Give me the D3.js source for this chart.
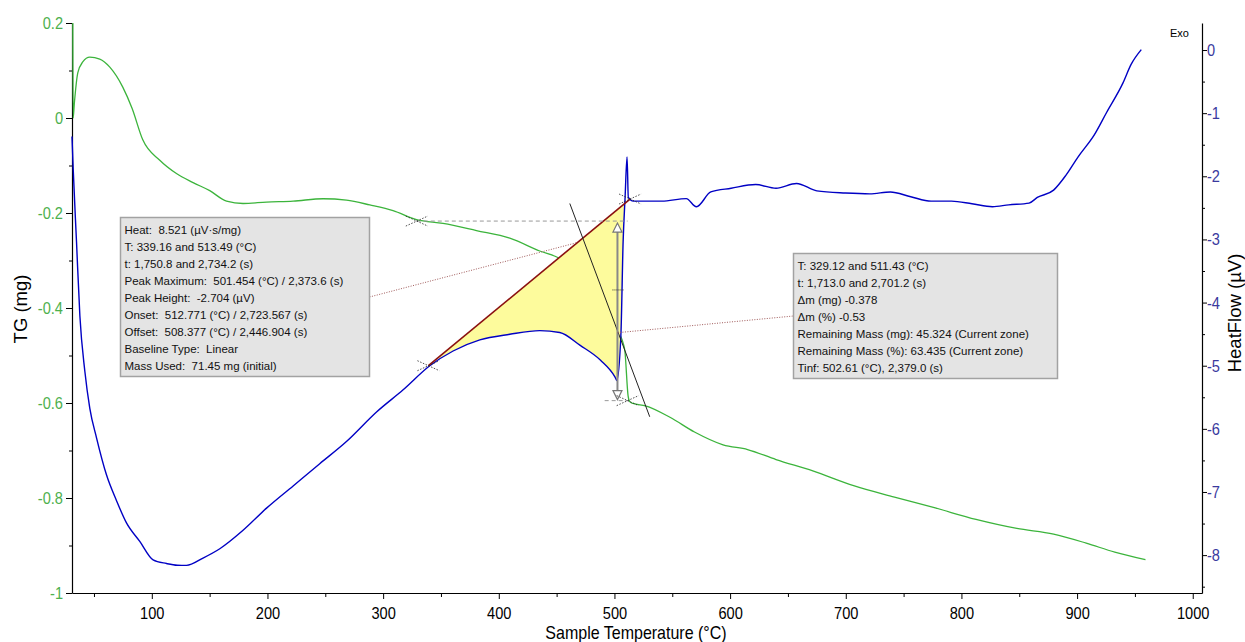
<!DOCTYPE html>
<html>
<head>
<meta charset="utf-8">
<script src="https://cdn.jsdelivr.net/npm/d3@7"></script>
<style>
  body { margin: 0; background: #fff; }
  svg { display: block; }
  text { font-family: "Liberation Sans", Arial, sans-serif; }
</style>
</head>
<body>
<svg id="chart" width="1245" height="642"></svg>
<script>
// axis ticks
const xTicks = [100, 200, 300, 400, 500, 600, 700, 800, 900, 1000];
const xMinorTicks = [50, 150, 250, 350, 450, 550, 650, 750, 850, 950];
const tgTicks = [0.2, 0, -0.2, -0.4, -0.6, -0.8, -1];
const tgMinorTicks = [0.1, -0.1, -0.3, -0.5, -0.7, -0.9];
const hfTicks = [0, -1, -2, -3, -4, -5, -6, -7, -8];
const hfMinorTicks = [-0.5, -1.5, -2.5, -3.5, -4.5, -5.5, -6.5, -7.5, -8.5];

// TG (mg) vs sample temperature (°C)
const tgCurve = [
  [31.7, 0.2], [32.0, 0.0], [33.0, 0.03], [36.0, 0.095], [40.3, 0.118], [46.4, 0.128],
  [55.0, 0.124], [63.7, 0.107], [74.9, 0.065], [83.0, 0.02], [92.2, -0.046],
  [106.9, -0.089], [121.3, -0.117], [135.7, -0.136], [150.1, -0.153], [164.6, -0.175],
  [178.9, -0.180], [199.2, -0.177], [222.2, -0.175], [248.1, -0.170], [268.3, -0.173],
  [288.5, -0.183], [308.6, -0.195], [328.9, -0.214], [351.8, -0.222], [380.7, -0.237],
  [409.5, -0.253], [435.4, -0.280], [452.7, -0.296], [470, -0.33], [488, -0.38],
  [500, -0.43], [504.6, -0.455], [507.5, -0.474], [509, -0.49], [511.8, -0.585],
  [513.2, -0.597], [516.1, -0.601], [526.8, -0.606], [548.0, -0.630], [569.2, -0.661],
  [593.9, -0.688], [615.1, -0.698], [639.7, -0.719], [671.5, -0.743], [706.8, -0.774],
  [742.1, -0.798], [777.4, -0.821], [812.6, -0.845], [847.9, -0.864], [879.7, -0.876],
  [907.9, -0.895], [932.6, -0.914], [959.1, -0.930]
];

// HeatFlow (µV) vs sample temperature (°C)
const hfCurve = [
  [31.0, -1.37], [32.0, -1.868], [34.9, -3.038], [37.8, -4.209], [42.1, -5.088],
  [46.4, -5.675], [52.2, -6.142], [60.8, -6.728], [69.5, -7.138], [78.1, -7.490],
  [89.6, -7.783], [101.1, -8.075], [112.7, -8.133], [122, -8.16], [130.0, -8.163],
  [144.3, -8.046], [158.8, -7.899], [178.9, -7.607], [199.2, -7.256], [222.2, -6.904],
  [245.2, -6.552], [268.3, -6.201], [294.3, -5.733], [317.3, -5.382], [340.3, -5.001],
  [360.5, -4.767], [383.6, -4.591], [409.5, -4.502], [435.4, -4.444], [452.7, -4.474],
  [470.4, -4.678], [488.0, -4.913], [500.4, -5.176], [502.1, -5.234], [505.6, -4.502],
  [507.5, -3.038], [509.2, -2.335], [510.9, -1.692], [512.0, -2.335], [516.3, -2.394],
  [540.9, -2.394], [562.1, -2.354], [570.9, -2.482], [583.3, -2.248], [600.9, -2.189],
  [622.1, -2.131], [639.7, -2.189], [657.4, -2.113], [675.0, -2.231], [699.7, -2.265],
  [720.9, -2.278], [738.5, -2.248], [756.2, -2.324], [773.8, -2.394], [791.4, -2.394],
  [809.1, -2.435], [826.8, -2.482], [840.9, -2.452], [858.5, -2.424], [865.6, -2.335],
  [879.7, -2.219], [890.3, -1.985], [900.9, -1.692], [915.0, -1.340], [925.5, -0.989],
  [939.7, -0.520], [946.7, -0.228], [955.5, 0.006]
];

// peak integration (HeatFlow) and mass step (TG) annotations
const peakBaseline = [[339.16, -5.0], [513.49, -2.36]];
const peakLeaderT = 468;
const tgStep = [[329.12, -0.217], [511.43, -0.595]];
const tinf = [502.61, -0.452];
const tinfTangent = [[461.4, -0.180], [530.5, -0.629]];
const stepMidTick = -0.362;

const peakText = [
  "Heat:  8.521 (µV·s/mg)",
  "T: 339.16 and 513.49 (°C)",
  "t: 1,750.8 and 2,734.2 (s)",
  "Peak Maximum:  501.454 (°C) / 2,373.6 (s)",
  "Peak Height:  -2.704 (µV)",
  "Onset:  512.771 (°C) / 2,723.567 (s)",
  "Offset:  508.377 (°C) / 2,446.904 (s)",
  "Baseline Type:  Linear",
  "Mass Used:  71.45 mg (initial)"
];
const stepText = [
  "T: 329.12 and 511.43 (°C)",
  "t: 1,713.0 and 2,701.2 (s)",
  "Δm (mg) -0.378",
  "Δm (%) -0.53",
  "Remaining Mass (mg): 45.324 (Current zone)",
  "Remaining Mass (%): 63.435 (Current zone)",
  "Tinf: 502.61 (°C), 2,379.0 (s)"
];

const svg = d3.select("#chart");
const plotLeft = 72, plotRight = 1202, plotTop = 23, plotBottom = 593;

const x = d3.scaleLinear().domain([31, 1008]).range([plotLeft, plotRight]);
const yTG = d3.scaleLinear().domain([-1, 0.2]).range([plotBottom, plotTop]);
const yHF = d3.scaleLinear().domain([-8.6, 0.428]).range([plotBottom, plotTop]);

const green = "#3cb43c";
const blue = "#0000c4";
const squeeze = 0.86; // the tick font is a narrow face

// axes
function styleAxis(g, color) {
  g.selectAll("path.domain").attr("stroke", "#000").attr("stroke-width", 1.2);
  g.selectAll(".tick line").attr("stroke", "#000");
  g.selectAll(".tick text")
    .attr("font-size", 17)
    .attr("fill", color)
    .attr("x", function () { return (+this.getAttribute("x") || 0) / squeeze; })
    .attr("transform", `scale(${squeeze},1)`);
}

const xAxis = svg.append("g")
  .attr("transform", `translate(0,${plotBottom})`)
  .call(d3.axisBottom(x).tickValues(xTicks).tickSize(6).tickSizeOuter(0).tickPadding(8).tickFormat((d) => String(d)));
styleAxis(xAxis, "#000");
svg.append("g")
  .attr("transform", `translate(0,${plotBottom})`)
  .call(d3.axisBottom(x).tickValues(xMinorTicks).tickSize(4).tickFormat(""))
  .call((g) => g.select(".domain").remove())
  .selectAll("line").attr("stroke", "#000");

const tgAxis = svg.append("g")
  .attr("transform", `translate(${plotLeft},0)`)
  .call(d3.axisLeft(yTG).tickValues(tgTicks).tickSize(6).tickSizeOuter(0).tickPadding(3).tickFormat((d) => String(d)));
styleAxis(tgAxis, "#4db04d");
svg.append("g")
  .attr("transform", `translate(${plotLeft},0)`)
  .call(d3.axisLeft(yTG).tickValues(tgMinorTicks).tickSize(3).tickFormat(""))
  .call((g) => g.select(".domain").remove())
  .selectAll("line").attr("stroke", "#000");

const hfAxis = svg.append("g")
  .attr("transform", `translate(${plotRight},0)`)
  .call(d3.axisRight(yHF).tickValues(hfTicks).tickSize(5).tickSizeOuter(0).tickPadding(0).tickFormat((d) => String(d)));
styleAxis(hfAxis, "#3a3a9e");
svg.append("g")
  .attr("transform", `translate(${plotRight},0)`)
  .call(d3.axisRight(yHF).tickValues(hfMinorTicks).tickSize(3).tickFormat(""))
  .call((g) => g.select(".domain").remove())
  .selectAll("line").attr("stroke", "#000");

// titles
svg.append("text")
  .attr("transform", `translate(636,639)scale(0.89,1)`)
  .attr("text-anchor", "middle")
  .attr("font-size", 18)
  .text("Sample Temperature (°C)");
svg.append("text")
  .attr("transform", "translate(27,309)rotate(-90)")
  .attr("text-anchor", "middle")
  .attr("font-size", 18.5)
  .text("TG (mg)");
svg.append("text")
  .attr("transform", "translate(1241,313)rotate(-90)")
  .attr("text-anchor", "middle")
  .attr("font-size", 18.5)
  .text("HeatFlow (µV)");
svg.append("text")
  .attr("x", 1170).attr("y", 37)
  .attr("font-size", 11)
  .text("Exo");

// TG curve
const tgLine = d3.line().curve(d3.curveMonotoneX).x((d) => x(d[0])).y((d) => yTG(d[1]));
svg.append("path")
  .attr("fill", "none")
  .attr("stroke", green)
  .attr("stroke-width", 1.3)
  .attr("d", tgLine(tgCurve));

// integrated peak area between linear baseline and heat flow
const [b0, b1] = peakBaseline;
const baseAt = (t) => b0[1] + ((t - b0[0]) / (b1[0] - b0[0])) * (b1[1] - b0[1]);
const hfAt = (t) => {
  const i = d3.bisector((d) => d[0]).left(hfCurve, t);
  const a = hfCurve[Math.max(0, i - 1)], b = hfCurve[Math.min(hfCurve.length - 1, i)];
  return a[0] === b[0] ? a[1] : a[1] + ((t - a[0]) / (b[0] - a[0])) * (b[1] - a[1]);
};
const areaPts = [[b0[0], hfAt(b0[0])]]
  .concat(hfCurve.filter((d) => d[0] > b0[0] && d[0] < b1[0]))
  .concat([[b1[0], hfAt(b1[0])]]);
svg.append("path")
  .attr("fill", "#fdfb9c")
  .attr("d", d3.area()
    .curve(d3.curveMonotoneX)
    .x((d) => x(d[0]))
    .y0((d) => yHF(baseAt(d[0])))
    .y1((d) => yHF(Math.min(d[1], baseAt(d[0]))))(areaPts));

// HeatFlow curve
const hfLine = d3.line().curve(d3.curveMonotoneX).x((d) => x(d[0])).y((d) => yHF(d[1]));
svg.append("path")
  .attr("fill", "none")
  .attr("stroke", blue)
  .attr("stroke-width", 1.4)
  .attr("d", hfLine(hfCurve));

// baseline
svg.append("line")
  .attr("x1", x(b0[0])).attr("y1", yHF(b0[1]))
  .attr("x2", x(b1[0])).attr("y2", yHF(b1[1]))
  .attr("stroke", "#8a1010")
  .attr("stroke-width", 1.6);

// mass step guides
svg.append("line")
  .attr("x1", x(tgStep[0][0])).attr("y1", yTG(tgStep[0][1]))
  .attr("x2", x(tgStep[1][0])).attr("y2", yTG(tgStep[0][1]))
  .attr("stroke", "#999").attr("stroke-dasharray", "4,3");
svg.append("line")
  .attr("x1", x(tgStep[1][0]) - 23).attr("y1", yTG(tgStep[1][1]))
  .attr("x2", x(tgStep[1][0])).attr("y2", yTG(tgStep[1][1]))
  .attr("stroke", "#999").attr("stroke-dasharray", "4,3");

// tangent at the inflection
svg.append("line")
  .attr("x1", x(tinfTangent[0][0])).attr("y1", yTG(tinfTangent[0][1]))
  .attr("x2", x(tinfTangent[1][0])).attr("y2", yTG(tinfTangent[1][1]))
  .attr("stroke", "#222").attr("stroke-width", 1);

// double arrow for the mass change
const ax = x(tinf[0]);
const aTop = yTG(tgStep[0][1]) + 2, aBot = yTG(tgStep[1][1]) - 1;
svg.append("line")
  .attr("x1", ax).attr("y1", aTop + 8).attr("x2", ax).attr("y2", aBot - 8)
  .attr("stroke", "#888").attr("stroke-width", 2);
svg.append("path")
  .attr("d", `M${ax},${aTop}L${ax - 4.5},${aTop + 9}L${ax + 4.5},${aTop + 9}Z`)
  .attr("fill", "#fff").attr("stroke", "#777").attr("stroke-width", 1.2);
svg.append("path")
  .attr("d", `M${ax},${aBot}L${ax - 4.5},${aBot - 9}L${ax + 4.5},${aBot - 9}Z`)
  .attr("fill", "#fff").attr("stroke", "#777").attr("stroke-width", 1.2);
svg.append("line")
  .attr("x1", ax - 5).attr("y1", yTG(stepMidTick)).attr("x2", ax + 6).attr("y2", yTG(stepMidTick))
  .attr("stroke", "#333").attr("stroke-dasharray", "1,1");

// cross markers
const crosses = [
  [x(tgStep[0][0]), yTG(tgStep[0][1])],
  [x(tgStep[1][0]), yTG(tgStep[1][1])],
  [x(b0[0]), yHF(b0[1])],
  [x(b1[0]), yHF(b1[1])]
];
svg.append("g").selectAll("path").data(crosses).join("path")
  .attr("d", (d) => `M${d[0] - 11},${d[1] - 5}L${d[0] + 11},${d[1] + 5}M${d[0] - 11},${d[1] + 5}L${d[0] + 11},${d[1] - 5}`)
  .attr("fill", "none")
  .attr("stroke", "#222")
  .attr("stroke-width", 0.8)
  .attr("stroke-dasharray", "1.5,1.5");

// leader lines
const peakBox = { x: 120.5, y: 217.5, w: 249, h: 159 };
const stepBox = { x: 793.5, y: 253.5, w: 264, h: 125 };
svg.append("line")
  .attr("x1", peakBox.x + peakBox.w).attr("y1", 297)
  .attr("x2", x(peakLeaderT)).attr("y2", yHF(baseAt(peakLeaderT)))
  .attr("stroke", "#a05a5a").attr("stroke-dasharray", "1,1.5");
svg.append("line")
  .attr("x1", x(tinf[0])).attr("y1", yTG(tinf[1]))
  .attr("x2", stepBox.x).attr("y2", 316)
  .attr("stroke", "#a05a5a").attr("stroke-dasharray", "1,1.5");

// info boxes
function infoBox(box, lines, firstBaseline) {
  const g = svg.append("g");
  g.append("rect")
    .attr("x", box.x).attr("y", box.y).attr("width", box.w).attr("height", box.h)
    .attr("fill", "#e4e4e4").attr("stroke", "#a2a2a2").attr("stroke-width", 1.5);
  g.selectAll("text").data(lines).join("text")
    .attr("x", box.x + 4)
    .attr("y", (d, i) => firstBaseline + i * 17)
    .attr("font-size", 11.5)
    .attr("fill", "#111")
    .style("white-space", "pre")
    .text((d) => d);
}
infoBox(peakBox, peakText, 234);
infoBox(stepBox, stepText, 270);
</script>
</body>
</html>
